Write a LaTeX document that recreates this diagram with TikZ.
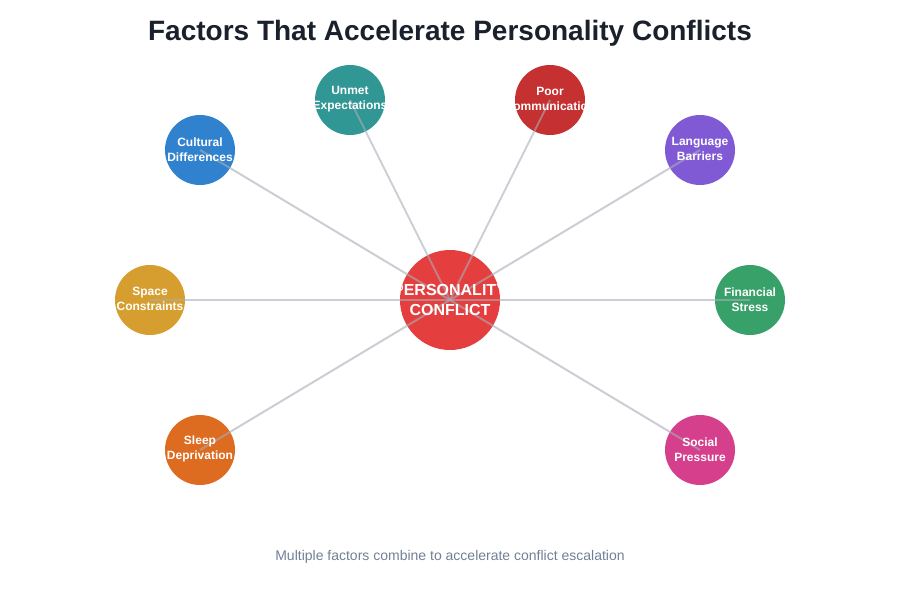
\documentclass[tikz,border=0pt]{standalone}
\usepackage{fontspec}
\setmainfont{Liberation Sans}

\definecolor{titleink}{HTML}{1A202C}
\definecolor{noteink}{HTML}{718096}
\definecolor{spokegray}{HTML}{A8AEB8}
\definecolor{corered}{HTML}{E53E3E}
\definecolor{cteal}{HTML}{319795}
\definecolor{cred}{HTML}{C53030}
\definecolor{cblue}{HTML}{3182CE}
\definecolor{cpurple}{HTML}{805AD5}
\definecolor{cgold}{HTML}{D69E2E}
\definecolor{cgreen}{HTML}{38A169}
\definecolor{corange}{HTML}{DD6B20}
\definecolor{cpink}{HTML}{D53F8C}

\tikzset{
  factor/.style={circle, minimum size=52.5pt, inner sep=0pt, draw=none},
  spoke/.style={draw=spokegray, line width=1.5pt, draw opacity=0.6},
  factorlabel/.style={text=white, font=\bfseries\fontsize{9}{11.25}\selectfont, align=center, inner sep=0pt},
}

\begin{document}
\begin{tikzpicture}[x=0.75pt,y=0.75pt,yscale=-1,xscale=1]
\useasboundingbox (0,0) rectangle (900,600);

%Shape: Circles
\node [factor, minimum size=75pt, fill=corered] (core) at (450,300) {};
\foreach \name/\x/\y/\col in {unmet/350/100/cteal, poor/550/100/cred, cultural/200/150/cblue, language/700/150/cpurple, space/150/300/cgold, financial/750/300/cgreen, sleep/200/450/corange, social/700/450/cpink}
  \node [factor, fill=\col] (\name) at (\x,\y) {};

%Straight Lines
\foreach \name in {unmet, poor, cultural, language, space, financial, sleep, social}
  \draw [spoke] (core.center) -- (\name.center);

% Text Node
\begin{scope}
  \clip (core.center) circle [radius=37.5pt];
  \node [factorlabel, font=\bfseries\fontsize{12}{15}\selectfont] (coretext) at (core) {PERSONALITY\\CONFLICT};
\end{scope}
\foreach \name/\txt in {unmet/{Unmet\\Expectations}, poor/{Poor\\Communication}, cultural/{Cultural\\Differences}, language/{Language\\Barriers}, space/{Space\\Constraints}, financial/{Financial\\Stress}, sleep/{Sleep\\Deprivation}, social/{Social\\Pressure}}
{
  \begin{scope}
    \clip (\name.center) circle [radius=26.25pt];
    \node [factorlabel] (\name text) at ([yshift=-0.5pt]\name.center) {\txt};
  \end{scope}
}

% Text Node
\draw (450,33) node [text=titleink, font=\bfseries\fontsize{21}{25}\selectfont] (title) {Factors That Accelerate Personality Conflicts};
% Text Node
\draw (450,557) node [text=noteink, font=\fontsize{10.5}{13}\selectfont] (note) {Multiple factors combine to accelerate conflict escalation};

\end{tikzpicture}
\end{document}
